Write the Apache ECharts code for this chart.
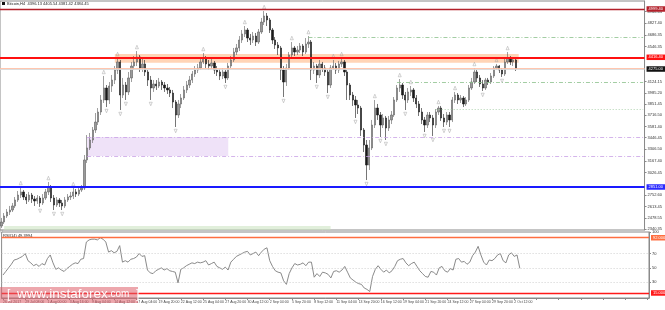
<!DOCTYPE html>
<html><head><meta charset="utf-8">
<script src="https://cdn.jsdelivr.net/npm/echarts@6/dist/echarts.min.js"></script>
<style>html,body{margin:0;padding:0;background:#fff}#c{width:665px;height:310px}</style>
</head><body><div id="c"></div>
<script>
// ---- data (8-hour bars) ----
const xTickLabels = ["26 Jul 2017","29 Jul 08:00","1 Aug 00:00","3 Aug 16:00","9 Aug 04:00","14 Aug 12:00","17 Aug 04:00","19 Aug 20:00","22 Aug 12:00","25 Aug 04:00","27 Aug 20:00","30 Aug 12:00","2 Sep 04:00","5 Sep 20:00","8 Sep 12:00","11 Sep 04:00","13 Sep 20:00","16 Sep 12:00","19 Sep 04:00","21 Sep 20:00","24 Sep 12:00","27 Sep 04:00","29 Sep 20:00","2 Oct 12:00"];
const slotCount = 233;
// [open, close, low, high]
const candles = [
[2380,2428,2356,2477],[2428,2501,2404,2537],[2501,2549,2477,2585],[2549,2573,2513,2622],[2573,2622,2549,2658],[2622,2694,2597,2730],[2694,2754,2670,2803],[2754,2791,2718,2851],[2791,2730,2694,2815],[2730,2694,2646,2766],
[2694,2754,2670,2791],[2754,2706,2658,2779],[2706,2682,2622,2742],[2682,2718,2646,2754],[2718,2658,2610,2742],[2658,2718,2634,2766],[2718,2791,2694,2827],[2791,2851,2754,2911],[2851,2718,2670,2875],[2718,2634,2573,2754],
[2634,2694,2610,2730],[2694,2658,2610,2718],[2658,2622,2573,2694],[2622,2694,2597,2730],[2694,2730,2670,2766],[2730,2742,2694,2791],[2742,2791,2706,2839],[2791,2766,2730,2827],[2766,2815,2742,2851],[2815,2839,2791,2875],
[2839,3177,2815,3237],[3177,3322,3141,3478],[3322,3418,3297,3503],[3418,3539,3382,3575],[3539,3635,3503,3744],[3635,3756,3599,3804],[3756,3901,3720,3961],[3901,4046,3865,4191],[4046,3901,3816,4082],[3901,4070,3853,4118],
[4070,4142,3998,4203],[4142,4263,4094,4311],[4263,4360,4215,4408],[4360,3961,3780,4384],[3961,4082,3925,4167],[4082,3998,3901,4118],[3998,4167,3961,4239],[4167,4311,4118,4360],[4311,4360,4263,4432],[4360,4420,4311,4492],
[4420,4287,4239,4444],[4287,4336,4239,4408],[4336,4239,4191,4384],[4239,4142,4070,4263],[4142,4046,3901,4191],[4046,4094,3998,4142],[4094,4070,4022,4142],[4070,4118,4046,4167],[4118,4082,4022,4142],[4082,4046,3998,4118],
[4046,4022,3973,4094],[4022,3985,3937,4058],[3985,3877,3804,4022],[3877,3720,3575,3901],[3720,3853,3684,3901],[3853,3925,3804,3973],[3925,4022,3901,4070],[4022,4082,3985,4130],[4082,4142,4046,4191],[4142,4215,4106,4251],
[4215,4263,4179,4311],[4263,4287,4227,4336],[4287,4360,4263,4408],[4360,4408,4336,4468],[4408,4336,4287,4432],[4336,4311,4263,4384],[4311,4348,4275,4396],[4348,4263,4215,4372],[4263,4239,4191,4311],[4239,4191,4142,4275],
[4191,4239,4154,4287],[4239,4167,4106,4263],[4167,4311,4142,4348],[4311,4384,4287,4432],[4384,4480,4360,4529],[4480,4529,4444,4577],[4529,4625,4492,4673],[4625,4698,4589,4746],[4698,4746,4661,4794],[4746,4649,4601,4770],
[4649,4625,4565,4698],[4625,4673,4589,4722],[4673,4601,4553,4710],[4601,4722,4577,4758],[4722,4842,4698,4891],[4842,4915,4806,4975],[4915,4867,4794,4951],[4867,4746,4710,4891],[4746,4625,4577,4770],[4625,4565,4517,4661],
[4565,4529,4444,4601],[4529,4263,4142,4553],[4263,4118,3937,4311],[4118,4287,4070,4336],[4287,4444,4263,4480],[4444,4529,4420,4601],[4529,4480,4432,4553],[4480,4504,4444,4553],[4504,4553,4468,4589],[4553,4480,4432,4577],
[4480,4577,4456,4649],[4577,4601,4529,4673],[4601,4263,4142,4625],[4263,4311,4215,4360],[4311,4203,4106,4336],[4203,4336,4167,4384],[4336,4287,4239,4360],[4287,4239,4191,4323],[4239,4082,3985,4263],[4082,4287,4046,4323],
[4287,4311,4263,4384],[4311,4263,4215,4348],[4263,4336,4227,4372],[4336,4360,4299,4408],[4360,4239,4191,4384],[4239,4082,3901,4263],[4082,3961,3901,4106],[3961,3901,3829,3998],[3901,3841,3684,3949],[3841,3804,3732,3901],
[3804,3539,3466,3829],[3539,3358,3273,3563],[3358,3116,2935,3418],[3116,3322,3056,3418],[3322,3599,3297,3660],[3599,3804,3563,3901],[3804,3720,3660,3853],[3720,3599,3454,3756],[3599,3684,3563,3732],[3684,3563,3418,3708],
[3563,3660,3527,3708],[3660,3720,3611,3768],[3720,3901,3696,3937],[3901,4046,3877,4082],[4046,4082,3998,4154],[4082,3961,3913,4106],[3961,3901,3780,3998],[3901,3998,3865,4046],[3998,4022,3949,4070],[4022,3925,3877,4046],
[3925,3853,3804,3961],[3853,3756,3708,3889],[3756,3660,3611,3804],[3660,3599,3515,3696],[3599,3720,3563,3756],[3720,3684,3635,3756],[3684,3599,3466,3720],[3599,3756,3563,3792],[3756,3804,3720,3829],[3804,3684,3648,3829],
[3684,3635,3575,3732],[3635,3720,3599,3756],[3720,3660,3575,3756],[3660,3901,3635,3937],[3901,3961,3865,3998],[3961,3901,3853,3985],[3901,3925,3865,3961],[3925,3853,3816,3949],[3853,3901,3829,3937],[3901,4046,3877,4082],
[4046,4118,4022,4167],[4118,4239,4094,4287],[4239,4167,4118,4263],[4167,4094,4058,4203],[4094,4046,4010,4142],[4046,4142,4022,4167],[4142,4118,4082,4167],[4118,4191,4094,4227],[4191,4287,4167,4311],[4287,4311,4263,4336],
[4311,4263,4227,4323],[4263,4215,4179,4287],[4215,4360,4191,4396],[4360,4408,4336,4480],[4408,4360,4323,4432],[4360,4384,4311,4420],[4384,4275,4251,4408]
];
const rsi = [
40,45,50,55,61,62,64,66,70,60,
57,53,55,52,56,54,63,68,57,48,
50,47,45,49,52,55,57,56,62,63,
86,89,90,90,89,92,90,86,72,74,
71,73,81,58,60,58,62,63,65,70,
66,67,47,43,42,46,48,50,47,49,
46,45,44,29,48,50,53,55,57,56,
58,57,58,60,54,56,58,52,50,48,
51,47,58,62,66,68,70,72,73,68,
70,72,67,72,76,78,60,52,46,44,
43,32,27,42,50,56,54,55,57,53,
58,58,37,42,38,44,43,41,36,45,
46,44,47,52,44,36,33,30,28,27,
22,20,17,38,48,53,48,44,47,43,
46,52,60,62,63,57,53,56,58,52,
46,42,38,37,45,44,40,50,52,46,
44,49,47,62,63,58,59,55,58,67,
72,80,68,58,54,61,60,63,68,70,
60,57,68,71,66,68,49.3994
];
const fractalUp = [7,17,26,37,42,49,73,88,95,105,111,120,123,135,144,148,158,164,171,179,183];
const fractalDown = [0,14,19,22,38,43,45,54,63,81,102,114,118,128,132,137,139,146,153,156,160,162,174,181];
const priceTicks = [2340.35,2478.55,2613.45,2752.60,3026.45,3167.40,3306.50,3446.45,3581.40,3716.50,3851.45,3985.20,4124.15,4546.35,4686.35,4827.40,4966.65];
const rsiTicks = [100,70,50,30];
const rsiGrid = [70,50,30];
const levelDarkRed = 4999.40, levelRed = 4416.40, levelSalmon = 4289.50, levelBlue = 2851.00;
const levelGreen1 = 4661.40, levelGreen1From = 111;
const levelGreen2 = 4118.30, levelGreen2From = 143;
const levelGreen3 = 3792.40, levelGreen3From = 157;
const purpleTop = 3454.40, purpleBottom = 3225.00, purpleFrom = 31, purpleTo = 82;
const orangeZone = {from:41, to:187, low:4352, high:4457};
const greenZone = {from:1, to:119, low:2332, high:2380};
const rsiUpper = 92, rsiLower = 15;
const headerText = "Bitcoin,H4  4396.13 4405.54 4381.42 4384.45";
const rsiText = "RSI(14) 49.3994";

// ---- chart ----
const cats = Array.from({length: slotCount}, (_, i) => String(i));
const lastClose = candles[candles.length - 1][1];
const lastSlot = slotCount - 1;
const FONT = 'Liberation Sans, Arial, sans-serif';
const boxLabel = (bg, txt) => ({show:true, position:'end', distance:2, formatter: txt, backgroundColor:bg, color:'#fff', fontSize:4, fontFamily:FONT, padding:[1,2,0.5,2]});
const noLabel = {show:false};

const chart = echarts.init(document.getElementById('c'), null, {renderer:'canvas'});
chart.setOption({
  animation:false,
  backgroundColor:'#ffffff',
  textStyle:{fontFamily:FONT},
  grid:[
    {left:0, right:16, top:1, height:229, show:true, borderColor:'#8a8a8a', borderWidth:1, backgroundColor:'#fff'},
    {left:0, right:16, top:232, height:66, show:true, borderColor:'#8a8a8a', borderWidth:1}
  ],
  xAxis:[
    {type:'category', gridIndex:0, data:cats, boundaryGap:true, axisLine:{show:false}, axisTick:{show:false}, axisLabel:{show:false}, splitLine:{show:false}},
    {type:'category', gridIndex:1, data:cats, boundaryGap:true,
     axisLine:{show:true, lineStyle:{color:'#8a8a8a'}},
     axisTick:{show:true, interval:7, alignWithLabel:true, length:2, lineStyle:{color:'#8a8a8a'}},
     axisLabel:{interval:7, fontSize:3.5, color:'#444', align:'left', margin:2.5, fontFamily:FONT,
       formatter:(v, i) => (i % 8 === 0 && xTickLabels[i/8]) ? xTickLabels[i/8] : ''},
     splitLine:{show:false}}
  ],
  yAxis:[
    {type:'value', gridIndex:0, position:'right', min:2331.9, max:5095.9,
     splitLine:{show:false}, axisLine:{show:true, lineStyle:{color:'#8a8a8a'}},
     axisTick:{show:true, length:2, customValues:priceTicks, lineStyle:{color:'#8a8a8a'}},
     axisLabel:{fontSize:4, color:'#333', margin:3, customValues:priceTicks, fontFamily:FONT, formatter:v => v.toFixed(2)}},
    {type:'value', gridIndex:1, position:'right', min:8, max:100,
     splitLine:{show:false}, axisLine:{show:true, lineStyle:{color:'#8a8a8a'}},
     axisTick:{show:true, length:2, customValues:rsiTicks, lineStyle:{color:'#8a8a8a'}},
     axisLabel:{fontSize:4, color:'#333', margin:3, customValues:rsiTicks, fontFamily:FONT, formatter:v => String(v)}}
  ],
  series:[
    {
      type:'line', xAxisIndex:0, yAxisIndex:0, data:[], silent:true, z:1,
      markArea:{silent:true, data:[
        [{coord:[orangeZone.from, orangeZone.high], itemStyle:{color:'rgba(255,170,110,0.5)'}}, {coord:[orangeZone.to, orangeZone.low]}],
        [{coord:[purpleFrom, purpleTop], itemStyle:{color:'rgba(220,190,240,0.45)'}}, {coord:[purpleTo, purpleBottom]}],
        [{coord:[greenZone.from, greenZone.high], itemStyle:{color:'rgba(200,225,190,0.55)'}}, {coord:[greenZone.to, greenZone.low]}]
      ]},
      markLine:{silent:true, symbol:['none','none'], precision:2, data:[
        {yAxis:levelDarkRed, lineStyle:{color:'#b3202a', width:1.4, type:'solid'}, label:boxLabel('#b3202a', levelDarkRed.toFixed(2))},
        {yAxis:levelSalmon, lineStyle:{color:'#ffbfa6', width:0.9, type:'solid'}, label:noLabel},
        {yAxis:lastClose, lineStyle:{color:'#d9d9d9', width:0.9, type:'solid'}, label:boxLabel('#111111', lastClose.toFixed(2))},
        {yAxis:levelRed, lineStyle:{color:'#ff1010', width:1.8, type:'solid'}, label:boxLabel('#ff1010', levelRed.toFixed(2))},
        {yAxis:levelBlue, lineStyle:{color:'#1a1aff', width:2, type:'solid'}, label:boxLabel('#2a2aff', levelBlue.toFixed(2))},
        [{coord:[levelGreen1From, levelGreen1], lineStyle:{color:'#8cc08c', width:0.8, type:[4,2,1,2]}, label:noLabel}, {coord:[lastSlot, levelGreen1]}],
        [{coord:[levelGreen2From, levelGreen2], lineStyle:{color:'#8cc08c', width:0.8, type:[4,2,1,2]}, label:noLabel}, {coord:[lastSlot, levelGreen2]}],
        [{coord:[levelGreen3From, levelGreen3], lineStyle:{color:'#9cc89c', width:0.8, type:[1,2]}, label:noLabel}, {coord:[lastSlot, levelGreen3]}],
        [{coord:[purpleFrom, purpleTop], lineStyle:{color:'#c9a2e6', width:0.8, type:[4,2,1,2]}, label:noLabel}, {coord:[lastSlot, purpleTop]}],
        [{coord:[purpleFrom, purpleBottom], lineStyle:{color:'#c9a2e6', width:0.8, type:[4,2,1,2]}, label:noLabel}, {coord:[lastSlot, purpleBottom]}]
      ]}
    },
    {
      type:'candlestick', xAxisIndex:0, yAxisIndex:0, data:candles, barWidth:1.8, z:3,
      itemStyle:{color:'#9a9a9a', color0:'#1a1a1a', borderColor:'#5e5e5e', borderColor0:'#1a1a1a', borderWidth:0.6}
    },
    {
      type:'scatter', xAxisIndex:0, yAxisIndex:0, silent:true, z:4,
      data:fractalUp.map(i => [i, candles[i][3]]),
      symbol:'triangle', symbolSize:[3,3.5], symbolOffset:[0,-4],
      itemStyle:{color:'rgba(0,0,0,0)', borderColor:'#a0a0a0', borderWidth:0.6}
    },
    {
      type:'scatter', xAxisIndex:0, yAxisIndex:0, silent:true, z:4,
      data:fractalDown.map(i => [i, candles[i][2]]),
      symbol:'triangle', symbolRotate:180, symbolSize:[3,3.5], symbolOffset:[0,4],
      itemStyle:{color:'rgba(0,0,0,0)', borderColor:'#a0a0a0', borderWidth:0.6}
    },
    {
      type:'line', xAxisIndex:1, yAxisIndex:1, data:rsi, showSymbol:false, silent:true,
      lineStyle:{color:'#7d7d7d', width:0.9},
      markLine:{silent:true, symbol:['none','none'], data:[
        ...rsiGrid.map(v => ({yAxis:v, lineStyle:{color:'#c4c4c4', width:0.8, type:[1,2]}, label:noLabel})),
        {yAxis:rsiUpper, lineStyle:{color:'#ff6e40', width:1.4, type:'solid'}, label:boxLabel('#ff6e40', rsiUpper.toFixed(4))},
        {yAxis:rsiLower, lineStyle:{color:'#ff1a1a', width:1.4, type:'solid'}, label:boxLabel('#ff1a1a', rsiLower.toFixed(4))}
      ]}
    }
  ],
  graphic:[
    {type:'rect', left:2, top:2, shape:{width:3, height:3}, style:{fill:'#111'}},
    {type:'text', left:7, top:1.5, style:{text:headerText, fontSize:4, fill:'#222', fontFamily:FONT}},
    {type:'text', left:3, top:233.5, style:{text:rsiText, fontSize:4, fill:'#222', fontFamily:FONT}},
    {type:'rect', z:100, left:0, top:287, shape:{x:0, y:0, width:138, height:16}, style:{fill:'rgba(222,95,105,0.55)'}},
    {type:'text', z:101, left:7, top:287.5, style:{
        text:'{b|[}  {a|www.instaforex}{c|.com}  {b|]}', fill:'#ffffff', fontFamily:FONT,
        rich:{a:{fontSize:13.5, fill:'rgba(255,255,255,0.95)', fontFamily:FONT, lineHeight:15}, c:{fontSize:10, fill:'rgba(255,255,255,0.95)', fontFamily:FONT, lineHeight:15}, b:{fontSize:12, fill:'rgba(255,255,255,0.95)', fontFamily:FONT, lineHeight:15}}
    }}
  ]
});
</script>
</body></html>
